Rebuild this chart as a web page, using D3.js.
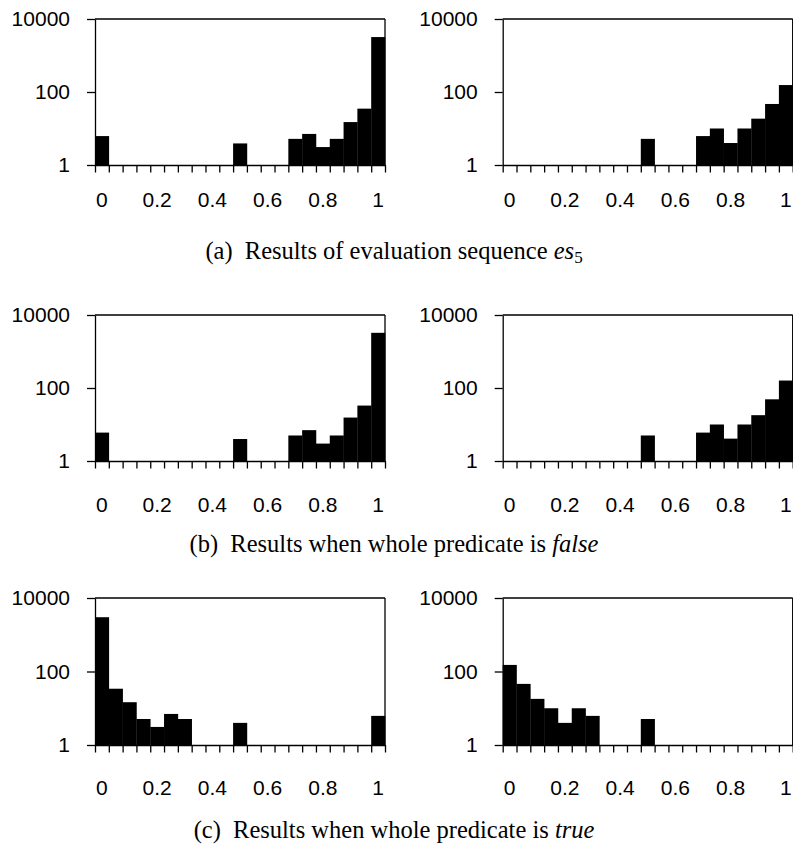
<!DOCTYPE html>
<html><head><meta charset="utf-8">
<script src="https://cdn.jsdelivr.net/npm/d3@7"></script>
<style>body{margin:0;background:#fff}</style>
</head><body>
<svg id="c" width="793" height="848"></svg>
<script>
// ---- data ----
const bins = ["0","0.05","0.1","0.15","0.2","0.25","0.3","0.35","0.4","0.45","0.5","0.55","0.6","0.65","0.7","0.75","0.8","0.85","0.9","0.95","1"];
const xTickLabels = ["0","0.2","0.4","0.6","0.8","1"];
const yTickValues = [1, 100, 10000];
const es5Left   = [6.2,0,0,0,0,0,0,0,0,0,3.9,0,0,0,5.2,7.1,3.1,5.2,15,35,3200];
const es5Right  = [0,0,0,0,0,0,0,0,0,0,5.2,0,0,0,6.2,10,4,10,18.6,47,155];
const falseLeft = [6.0,0,0,0,0,0,0,0,0,0,4.0,0,0,0,5.0,7.0,3.0,5.0,15.5,33,3250];
const falseRight= [0,0,0,0,0,0,0,0,0,0,5.0,0,0,0,6.0,10,4.1,10,18,49,160];
const trueLeft  = [3000,34,14.6,5.1,3.1,7,5.1,0,0,0,4,0,0,0,0,0,0,0,0,0,6.2];
const trueRight = [151,46,18,10,4,10,6.2,0,0,0,5.1,0,0,0,0,0,0,0,0,0,0];
const captions = [
  {label:"(a)", text:"Results of evaluation sequence ", em:"es", sub:"5"},
  {label:"(b)", text:"Results when whole predicate is ", em:"false", sub:""},
  {label:"(c)", text:"Results when whole predicate is ", em:"true", sub:""}
];
const rowSeries = [[es5Left, es5Right],[falseLeft, falseRight],[trueLeft, trueRight]];

// ---- layout ----
const rows = [
  {top:19,  bottom:165, labelY:207, capY:259},
  {top:315, bottom:461, labelY:512, capY:552},
  {top:598, bottom:745, labelY:795, capY:838}
];
const colX = [95, 502.7];
const plotW = 290;

const svg = d3.select("#c");

rows.forEach((r, ri) => {
  colX.forEach((x0, ci) => {
    const vals = rowSeries[ri][ci];
    const g = svg.append("g");
    const x = d3.scaleBand().domain(bins).range([x0, x0 + plotW]).padding(0);
    const y = d3.scaleLog().domain([1, 10000]).range([r.bottom, r.top]);

    g.selectAll("rect.bar").data(bins.map((b,i)=>({b, v: vals[i]})).filter(d=>d.v>1))
      .join("rect")
      .attr("x", d => x(d.b))
      .attr("width", x.bandwidth() + 0.3)
      .attr("y", d => y(d.v))
      .attr("height", d => y(1) - y(d.v))
      .attr("fill", "#000");

    const ya = g.append("g").attr("transform", `translate(${x0},0)`)
      .call(d3.axisLeft(y).tickValues(yTickValues).tickFormat(d3.format("d")).tickSize(8).tickSizeOuter(0).tickPadding(17));
    ya.selectAll("text").attr("font-family","Liberation Sans, Arial, sans-serif").attr("font-size",21).attr("fill","#000");
    ya.selectAll("line,path").attr("stroke","#000").attr("stroke-width",1.3);

    g.append("line").attr("x1",x0).attr("x2",x0+plotW).attr("y1",r.top).attr("y2",r.top).attr("stroke","#000").attr("stroke-width",1.3);
    g.append("line").attr("x1",x0+plotW).attr("x2",x0+plotW).attr("y1",r.top).attr("y2",r.bottom).attr("stroke","#000").attr("stroke-width",1.3);

    const xe = d3.scaleLinear().domain([0, bins.length]).range([x0, x0 + plotW]);
    const xa = g.append("g").attr("transform", `translate(0,${r.bottom})`)
      .call(d3.axisBottom(xe).tickValues(d3.range(bins.length + 1)).tickFormat("").tickSize(7.5).tickSizeOuter(0));
    xa.selectAll("line,path").attr("stroke","#000").attr("stroke-width",1.3);

    g.selectAll("text.xl").data(xTickLabels).join("text")
      .attr("x", d => x(d) + x.bandwidth()/2)
      .attr("y", r.labelY)
      .attr("text-anchor","middle")
      .attr("font-family","Liberation Sans, Arial, sans-serif")
      .attr("font-size",21)
      .text(d => d);
  });

  const c = captions[ri];
  const t = svg.append("text").attr("x", 394).attr("y", r.capY).attr("text-anchor","middle")
    .attr("font-family","Liberation Serif, Times New Roman, serif").attr("font-size",24.5).attr("fill","#000");
  t.append("tspan").text(c.label + "\u2002" + c.text);
  t.append("tspan").attr("font-style","italic").text(c.em);
  if (c.sub) t.append("tspan").attr("font-size",17).attr("dy",4).text(c.sub);
});
</script>
</body></html>
